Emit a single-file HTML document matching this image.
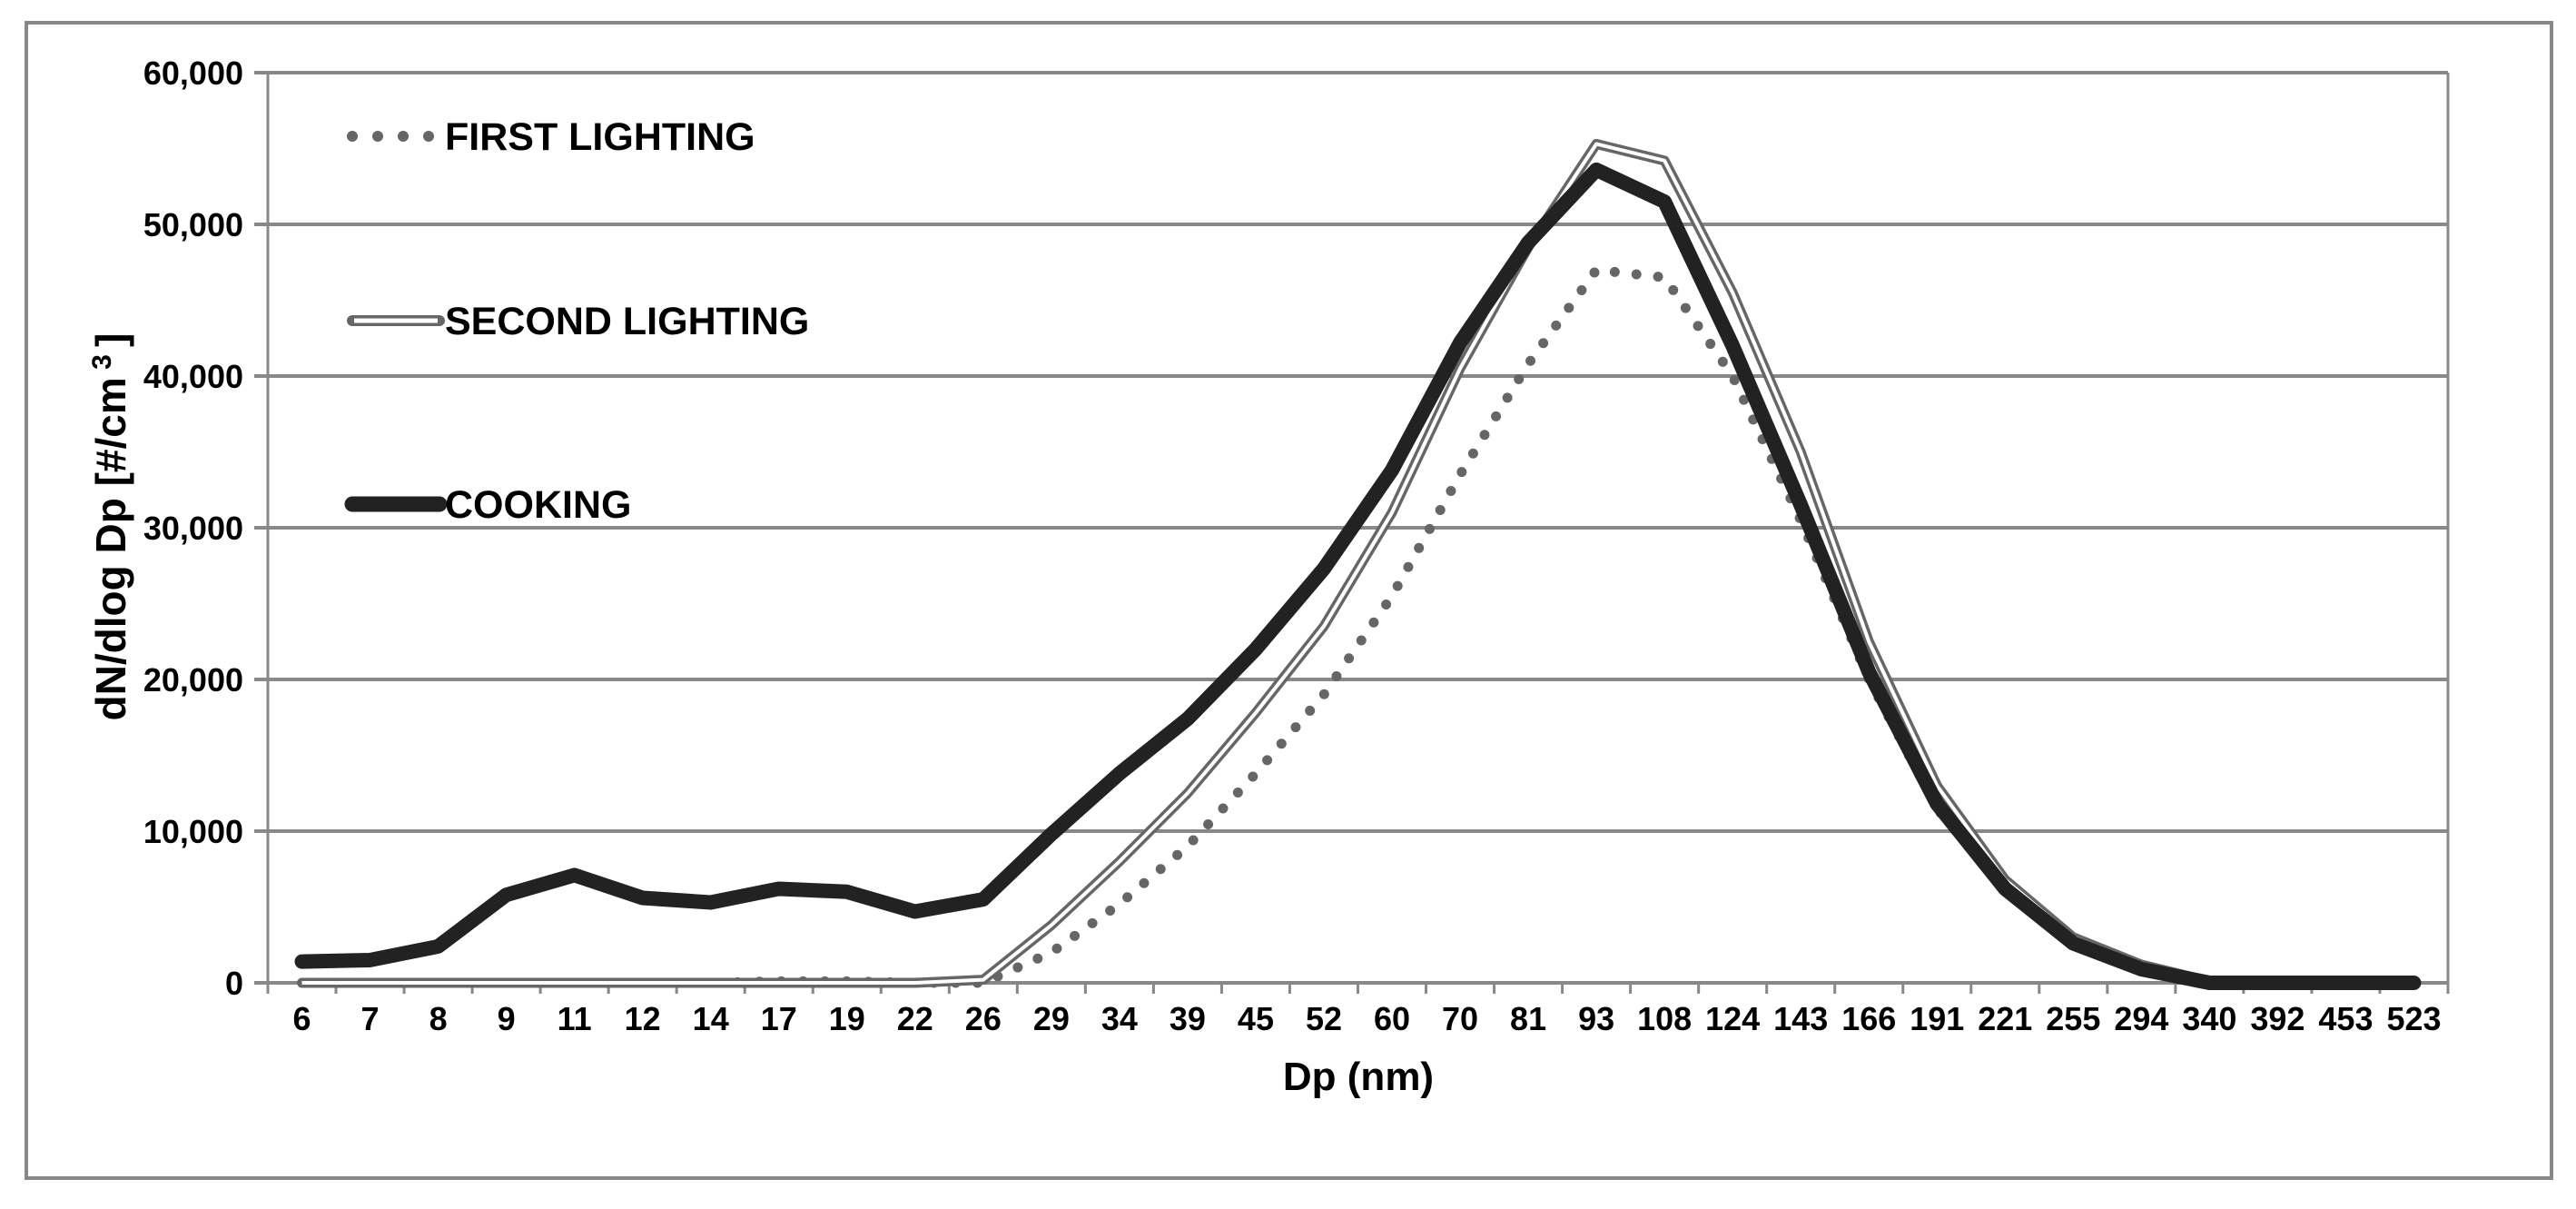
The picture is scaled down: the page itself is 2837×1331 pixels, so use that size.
<!DOCTYPE html>
<html><head><meta charset="utf-8"><style>
html,body{margin:0;padding:0;background:#fff;}
svg text{font-family:"Liberation Sans",sans-serif;font-weight:bold;fill:#000;}
</style></head><body>
<svg id="chart" width="2837" height="1326" viewBox="0 0 2837 1326" xmlns="http://www.w3.org/2000/svg">
<rect x="29" y="25" width="2781" height="1272" fill="#fff" stroke="#888" stroke-width="4"/>
<g id="grid"></g>
<g id="axes"></g>
<g id="series"></g>
<text x="1496" y="1200" font-size="44" text-anchor="middle">Dp (nm)</text>
<text transform="translate(138,580) rotate(-90)" font-size="46" text-anchor="middle">dN/dlog Dp [#/cm<tspan font-size="30" dy="-16"> 3 </tspan><tspan dy="16">]</tspan></text>
<g>
<g>
<line x1="388" y1="150" x2="478" y2="150" stroke="#666" stroke-width="12" stroke-linecap="round" stroke-dasharray="0 28"/>
<text x="490" y="165" font-size="43">FIRST LIGHTING</text></g>
<g>
<line x1="388" y1="353" x2="484" y2="353" stroke="#666" stroke-width="12" stroke-linecap="round"/>
<line x1="390" y1="353" x2="482" y2="353" stroke="#fff" stroke-width="5"/>
<text x="490" y="368" font-size="43">SECOND LIGHTING</text></g>
<g>
<line x1="388" y1="555" x2="484" y2="555" stroke="#222" stroke-width="17" stroke-linecap="round"/>
<text x="490" y="570" font-size="43">COOKING</text></g>
</g>
</svg>
<script>
const categories=["6","7","8","9","11","12","14","17","19","22","26","29","34","39","45","52","60","70","81","93","108","124","143","166","191","221","255","294","340","392","453","523"];
const firstLighting=[0,0,0,0,0,0,0,100,100,0,0,2000,5200,9000,13800,19000,25500,33500,40800,47000,46500,40000,30500,20000,11500,6000,2600,1000,100,0,0,0];
const secondLighting=[0,0,0,0,0,0,0,0,0,0,200,3800,8000,12500,17800,23500,31000,40500,48500,55300,54200,45500,35000,22500,13000,6800,3000,1200,100,0,0,0];
const cooking=[1400,1500,2400,5800,7100,5600,5300,6200,6000,4700,5500,9800,13800,17400,22000,27300,33800,42200,48800,53600,51500,42000,31500,20500,11800,6200,2600,900,0,0,0,0];
const yTicks=[0,10000,20000,30000,40000,50000,60000];
const yTickLabels=["0","10,000","20,000","30,000","40,000","50,000","60,000"];
const L=295,R=2696,T=80,B=1082,YMAX=60000;
const step=(R-L)/categories.length;
const xs=i=>L+step*(i+0.5);
const ys=v=>B-(v/YMAX)*(B-T);
const NS="http://www.w3.org/2000/svg";
function mk(tag,parent,attrs){const e=document.createElementNS(NS,tag);for(const k in attrs)e.setAttribute(k,attrs[k]);parent.appendChild(e);return e;}
const grid=document.getElementById('grid'),axes=document.getElementById('axes'),ser=document.getElementById('series');
yTicks.forEach((v,i)=>{
 const g=mk('line',grid,{x1:L-15,x2:R,y1:ys(v),y2:ys(v),stroke:'#888','stroke-width':4});
 
 
 const t=mk('text',axes,{x:268,y:ys(v)+13,'font-size':36,'text-anchor':'end'});
 t.textContent=yTickLabels[i];
 
 
});
const ya=mk('line',axes,{x1:L,x2:L,y1:T,y2:B,stroke:'#888','stroke-width':3});


const xr=mk('line',axes,{x1:R,x2:R,y1:T,y2:B+12,stroke:'#888','stroke-width':3});


for(let i=0;i<=categories.length;i++){
 const tk=mk('line',axes,{x1:L+step*i,x2:L+step*i,y1:B,y2:B+12,stroke:'#888','stroke-width':3});
 
 
}
categories.forEach((c,i)=>{
 const t=mk('text',axes,{x:xs(i),y:1134,'font-size':36,'text-anchor':'middle'});
 t.textContent=c;
 
 
});
const pts=arr=>arr.map((v,i)=>xs(i)+','+ys(v)).join(' ');
const p1=mk('polyline',ser,{points:pts(firstLighting),fill:'none',stroke:'#666','stroke-width':11,'stroke-linecap':'round','stroke-dasharray':'0 24'});


const p2=mk('polyline',ser,{points:pts(secondLighting),fill:'none',stroke:'#666','stroke-width':11,'stroke-linejoin':'round'});


const p2b=mk('polyline',ser,{points:pts(secondLighting),fill:'none',stroke:'#fff','stroke-width':4,'stroke-linejoin':'round'});


const p3=mk('polyline',ser,{points:pts(cooking),fill:'none',stroke:'#222','stroke-width':16,'stroke-linejoin':'round','stroke-linecap':'round'});


</script>
</body></html>
